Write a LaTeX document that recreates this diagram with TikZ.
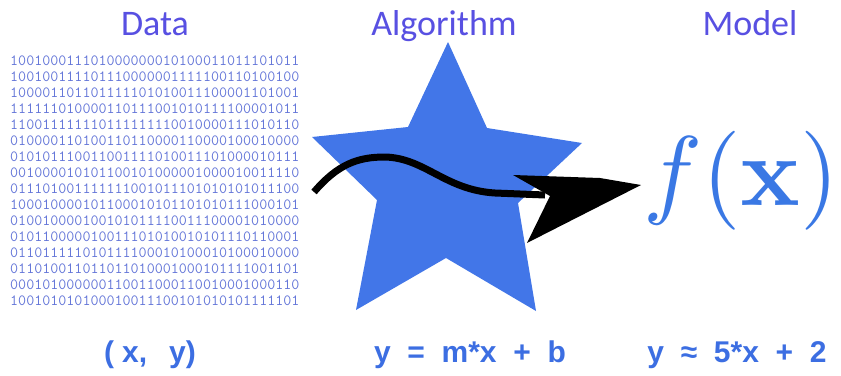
\documentclass[tikz,border=0pt]{standalone}
\usepackage[no-math]{fontspec}
\usepackage{graphicx}
\newfontfamily\labelfont{Carlito}
\newfontfamily\eqfont[WordSpace=2]{Liberation Sans}
\definecolor{titlecol}{RGB}{88,80,226}
\definecolor{bitcol}{RGB}{100,118,216}
\definecolor{starblue}{RGB}{66,118,232}
\definecolor{fxblue}{RGB}{58,120,228}
\definecolor{eqblue}{RGB}{60,110,226}
\tikzset{
  title/.style={inner sep=0pt, anchor=base, text=titlecol, font=\labelfont\fontsize{36}{40}\selectfont},
  bits/.style={inner sep=0pt, anchor=west, text=bitcol, font=\ttfamily\fontsize{15.6}{16}\selectfont},
  eq/.style={inner sep=0pt, anchor=base, text=eqblue, font=\eqfont\bfseries\fontsize{30}{34}\selectfont},
}
\begin{document}
\begin{tikzpicture}[x=1pt,y=-1pt]
\useasboundingbox (0,0) rectangle (841,375);
% titles
\node[title] (tdata) at (155,35) {Data};
\node[title] (talg) at (444,35) {Algorithm};
\node[title] (tmodel) at (750,35) {Model};
% binary data
\foreach \r [count=\i] in {
100100011101000000010100011011101011,
100100111101110000001111100110100100,
100001101101111101010011100001101001,
111111010000110111001010111100001011,
110011111110111111110010000111010110,
010000110100110110000110000100010000,
010101110011001111010011101000010111,
001000010101100101000001000010011110,
011101001111111001011101010101011100,
100010000101100010101101010111000101,
010010000100101011110011100001010000,
010110000010011101010010101110110001,
011011111010111100010100010100010000,
011010011011011010001000101111001101,
000101000000110011000110010001000110,
100101010100010011100101010101111101}
  \node[bits] (row\i) at (10,{61+16*(\i-1)}) {\r};
% star
\fill[starblue] (448,42) -- (487,128) -- (582,143) -- (518,203) -- (536,311)
  -- (446,258) -- (356,310) -- (377,200) -- (312,137) -- (408,127) -- cycle;
% arrow
\draw[line width=7pt] (314,192) .. controls (338,164) and (358,157) .. (385,157)
  .. controls (425,158) and (445,190) .. (495,193) -- (545,195);
\fill (513,175) -- (600,178) -- (641,185) -- (527,243) -- (550,196) -- cycle;
% model
\node[inner sep=0pt, anchor=base west, text=fxblue] (fx) at (643,205) {\scalebox{9.9}{$f(\mathbf{x})$}};
% equations
\node[eq] (eqxy) at (150,362) {(\hspace{8pt}x,\hspace{22pt}y)};
\node[eq] (eqalg) at (470,362) {y = m*x + b};
\node[eq] (eqmod) at (737,362) {y ≈ 5*x + 2};
\end{tikzpicture}
\end{document}
